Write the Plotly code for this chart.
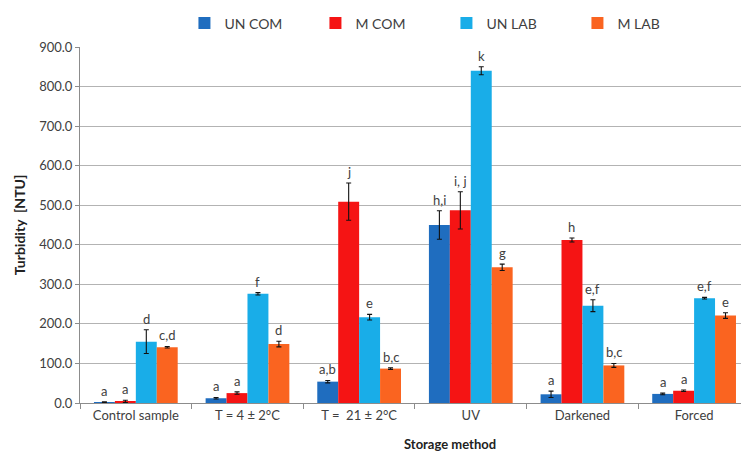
import plotly.graph_objects as go

# Storage methods (x categories)
categories = ["Control sample", "T = 4 ± 2°C", "T =  21 ± 2°C", "UV", "Darkened", "Forced"]

# Mean turbidity [NTU] per sample type
un_com = [2, 12, 54, 450, 22, 23]
m_com = [4, 25, 509, 487, 412, 31]
un_lab = [155, 276, 217, 840, 246, 265]
m_lab = [141, 149, 87, 343, 95, 221]

# Standard deviations
un_com_err = [1, 2, 3, 36, 8, 2]
m_com_err = [3, 3, 47, 47, 5, 2]
un_lab_err = [30, 3, 7, 10, 15, 2]
m_lab_err = [2, 7, 2, 8, 5, 7]

# Significance letters
un_com_lbl = ["a", "a", "a,b", "h,i", "a", "a"]
m_com_lbl = ["a", "a", "j", "i, j", "h", "a"]
un_lab_lbl = ["d", "f", "e", "k", "e,f", "e,f"]
m_lab_lbl = ["c,d", "d", "b,c", "g", "b,c", "e"]

series = [
    ("UN COM", un_com, un_com_err, un_com_lbl, "#1f6dbf"),
    ("M COM", m_com, m_com_err, m_com_lbl, "#f51414"),
    ("UN LAB", un_lab, un_lab_err, un_lab_lbl, "#19ade8"),
    ("M LAB", m_lab, m_lab_err, m_lab_lbl, "#fa6420"),
]

FONT = "Lato, 'Open Sans', sans-serif"
TXT = "#404040"

fig = go.Figure()
bargap = 0.25
n = len(series)
annotations = []
for k, (name, vals, errs, lbls, col) in enumerate(series):
    fig.add_trace(go.Bar(
        name=name, x=categories, y=vals,
        marker=dict(color=col, line=dict(width=0)),
        error_y=dict(type="data", array=errs, visible=True,
                     color="#111111", thickness=1.1, width=2.5),
    ))
    offset = (k - (n - 1) / 2) * (1 - bargap) / n
    for i, (v, e, t) in enumerate(zip(vals, errs, lbls)):
        annotations.append(dict(
            x=i + offset, y=v + e, xref="x", yref="y", text=t,
            showarrow=False, yanchor="bottom", yshift=1,
            font=dict(family=FONT, size=13, color=TXT),
        ))

annotations.append(dict(
    x=415 / 741, y=-0.088, xref="paper", yref="paper", text="<b>Storage method</b>",
    showarrow=False, xanchor="center", yanchor="top",
    font=dict(family=FONT, size=13, color="#222222"),
))

fig.update_layout(
    width=741, height=452,
    margin=dict(l=80, r=0, t=47, b=49, autoexpand=False),
    paper_bgcolor="white", plot_bgcolor="white",
    barmode="group", bargap=bargap, bargroupgap=0,
    font=dict(family=FONT, size=12, color=TXT),
    showlegend=True,
    legend=dict(orientation="h", x=0.158, y=0.948, xanchor="left", yanchor="middle",
                yref="container",
                entrywidth=86, entrywidthmode="pixels",
                font=dict(family=FONT, size=14, color=TXT),
                itemwidth=30, traceorder="normal"),
    annotations=annotations,
)

fig.update_xaxes(
    range=[-0.5, 5.42], showline=True, linecolor="#8c8c8c", linewidth=1,
    ticks="outside", tickson="boundaries", ticklen=5, tickcolor="#8c8c8c",
    tickfont=dict(family=FONT, size=13, color=TXT), showgrid=False,
)
fig.update_yaxes(
    range=[0, 900], dtick=100, tickformat=".1f",
    showline=True, linecolor="#8c8c8c", linewidth=1,
    ticks="outside", ticklen=4, tickcolor="#8c8c8c",
    showgrid=True, gridcolor="#b3b3b3", gridwidth=1, zeroline=False,
    tickfont=dict(family=FONT, size=13, color=TXT),
    title=dict(text="<b>Turbidity  [NTU]</b>", standoff=10,
               font=dict(family=FONT, size=14, color="#222222")),
)

fig.write_html("out.html")
